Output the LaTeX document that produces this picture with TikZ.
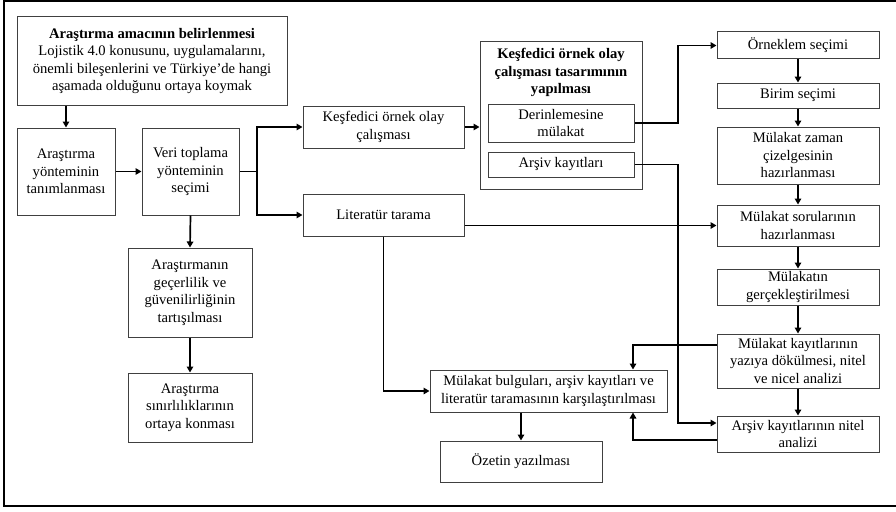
\documentclass[tikz,border=0pt]{standalone}
\usepackage{fontspec}
\setmainfont{Liberation Serif}
\usetikzlibrary{arrows.meta,calc}
\begin{document}
\begin{tikzpicture}[x=1pt,y=-1pt,
  box/.style={draw=black!75,line width=1pt,inner sep=1pt,align=center,font=\fontsize{14.6}{17.5}\selectfont},
  arr/.style={line width=1.7pt,-{Triangle[length=6pt,width=6.5pt]}},
  ln/.style={line width=1.7pt}]
\useasboundingbox (0,0) rectangle (896,511);
\draw[line width=2pt] (896,1.5) -- (4,1.5) -- (4,506) -- (896,506);
% left part
\node[box,minimum width=270,minimum height=88] (A) at (152,61) {\textbf{Araştırma amacının belirlenmesi}\\Lojistik 4.0 konusunu, uygulamalarını,\\önemli bileşenlerini ve Türkiye’de hangi\\aşamada olduğunu ortaya koymak};
\node[box,minimum width=98,minimum height=87] (B) at (66,171.5) {Araştırma\\yönteminin\\tanımlanması};
\node[box,minimum width=97,minimum height=87] (C) at (190.5,171.5) {Veri toplama\\yönteminin\\seçimi};
\node[box,minimum width=124,minimum height=89] (D) at (190,292.5) {Araştırmanın\\geçerlilik ve\\güvenilirliğinin\\tartışılması};
\node[box,minimum width=124,minimum height=69] (E) at (190,407.5) {Araştırma\\sınırlılıklarının\\ortaya konması};
% middle
\node[box,minimum width=161,minimum height=42] (F) at (383.5,127) {Keşfedici örnek olay\\çalışması};
\node[box,minimum width=161,minimum height=42] (J) at (383.5,215) {Literatür tarama};
\node[box,minimum width=162,minimum height=147] (G) at (561,115.5) {};
\node[font=\fontsize{14.6}{17.5}\selectfont\bfseries,align=center,inner sep=0] (Gt) at (561,72.5) {Keşfedici örnek olay\\çalışması tasarımının\\yapılması};
\node[box,minimum width=146,minimum height=38] (H) at (561,123) {Derinlemesine\\mülakat};
\node[box,minimum width=146,minimum height=25] (I) at (561,164.5) {Arşiv kayıtları};
\node[box,minimum width=237,minimum height=42] (R) at (548.5,391) {Mülakat bulguları, arşiv kayıtları ve\\literatür taramasının karşılaştırılması};
\node[box,minimum width=162,minimum height=41] (S) at (521,461.5) {Özetin yazılması};
% right column
\node[box,minimum width=162,minimum height=27] (K) at (798,45.5) {Örneklem seçimi};
\node[box,minimum width=162,minimum height=25] (L) at (798,95.5) {Birim seçimi};
\node[box,minimum width=162,minimum height=57] (M) at (798,155.5) {Mülakat zaman\\çizelgesinin\\hazırlanması};
\node[box,minimum width=162,minimum height=41] (N) at (798,225.5) {Mülakat sorularının\\hazırlanması};
\node[box,minimum width=162,minimum height=36] (O) at (798,287) {Mülakatın\\gerçekleştirilmesi};
\node[box,minimum width=162,minimum height=54] (P) at (798,361) {Mülakat kayıtlarının\\yazıya dökülmesi, nitel\\ve nicel analizi};
\node[box,minimum width=162,minimum height=36] (Q) at (798,434) {Arşiv kayıtlarının nitel\\analizi};
% helper coordinates
\coordinate (cs) at (257,0);
\coordinate (vx) at (678,0);
\coordinate (rx) at (633,0);
\coordinate (qin) at ([yshift=11pt]Q.west);
\coordinate (pout) at ([yshift=16pt]P.west);
\coordinate (qout) at ([yshift=-6pt]Q.west);
% connectors
\draw[arr] (A.south -| B.north) -- (B.north);
\draw[arr] (B.east) -- (C.west);
\draw[ln] (C.east) -- (cs |- C.east);
\draw[arr] (cs |- C.east) |- (F.west);
\draw[arr] (cs |- C.east) |- (J.west);
\draw[arr] (C.south) -- (D.north);
\draw[arr] (D.south) -- (E.north);
\draw[arr] (F.east) -- (F.east -| G.west);
\draw[arr] (H.east) -- (H.east -| vx) |- (K.west);
\draw[arr] (I.east) -- (I.east -| vx) |- (qin);
\draw[arr] (N.west -| J.east) -- (N.west);
\draw[arr] (K.south) -- (L.north);
\draw[arr] (L.south) -- (M.north);
\draw[arr] (M.south) -- (N.north);
\draw[arr] (N.south) -- (O.north);
\draw[arr] (O.south) -- (P.north);
\draw[arr] (P.south) -- (Q.north);
\draw[arr] (pout) -| (rx |- R.north);
\draw[arr] (qout) -| (rx |- R.south);
\draw[arr] (J.south) |- (R.west);
\draw[arr] (R.south -| S.north) -- (S.north);
\end{tikzpicture}
\end{document}
